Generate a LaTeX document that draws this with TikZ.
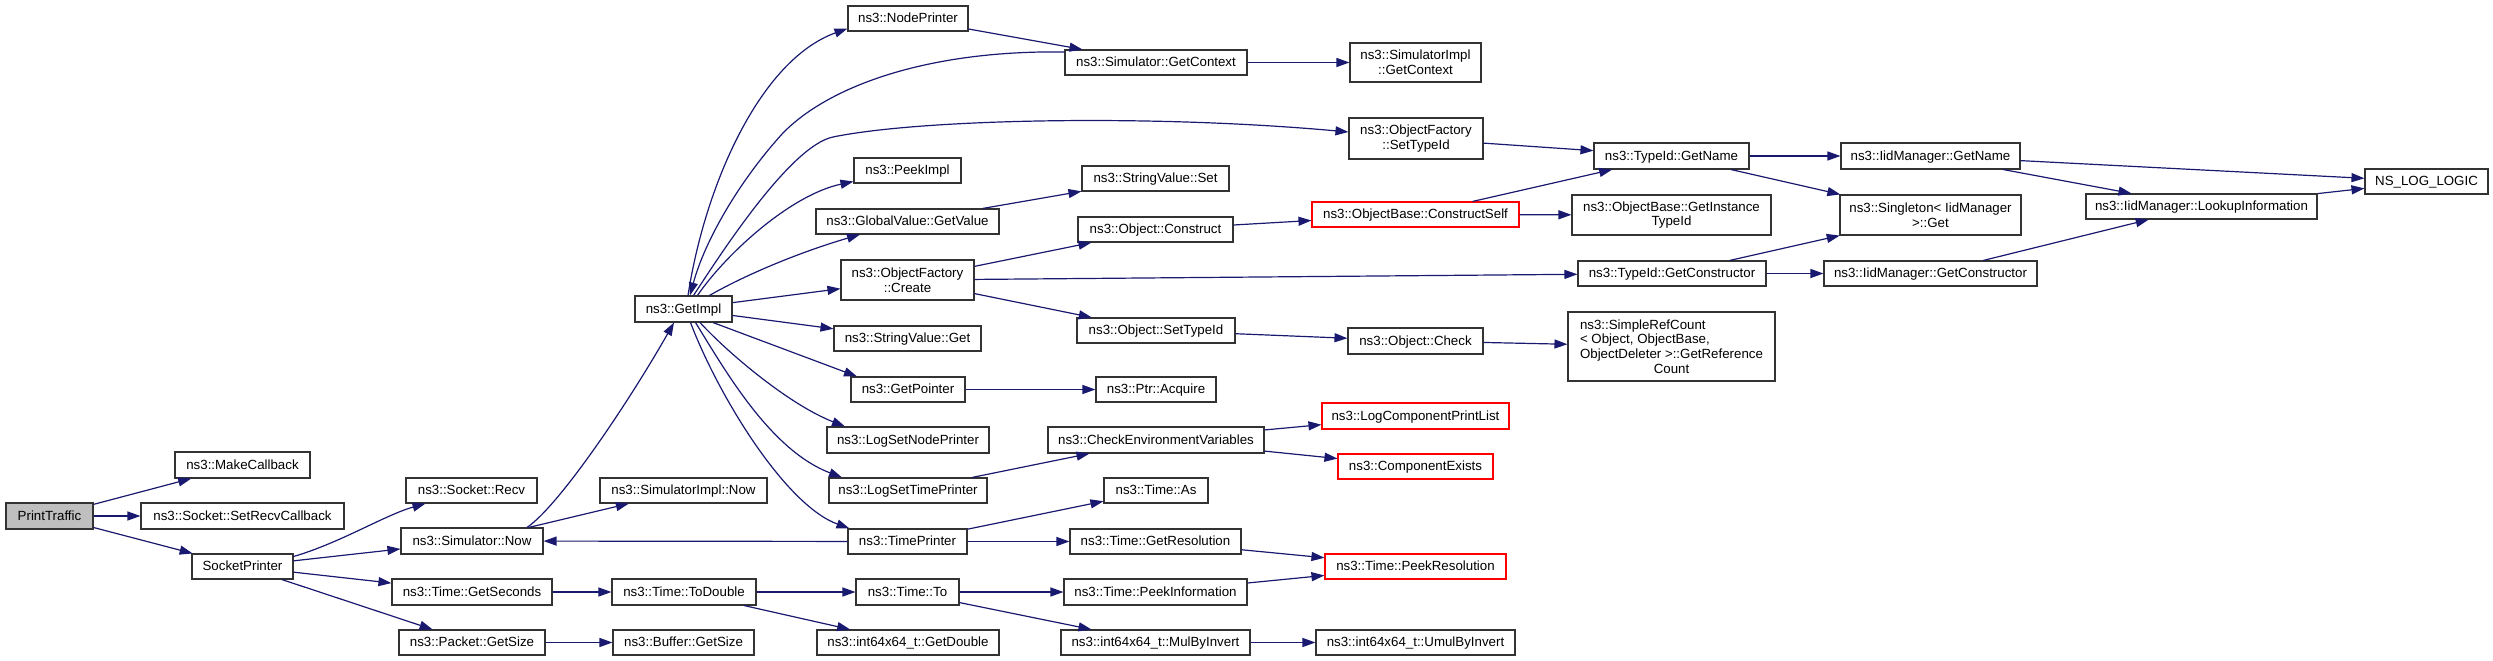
\documentclass[tikz,border=0pt]{standalone}
\usepackage{fontspec}
\setmainfont{Liberation Sans}
\usetikzlibrary{arrows.meta}
\definecolor{navyc}{HTML}{191970}
\definecolor{boxgray}{HTML}{BFBFBF}
\definecolor{boxline}{HTML}{333333}
\newcommand\gn[7][]{\node[gbox,one,#1] (#2) at ({(#3+#5)/2},{(#4+#6)/2}) [minimum width={(#5-#3)*1pt}, minimum height={(#6-#4)*1pt}] {#7};}
\newcommand\gm[7][]{\node[gbox,#1] (#2) at ({(#3+#5)/2},{(#4+#6)/2}) [minimum width={(#5-#3)*1pt}, minimum height={(#6-#4)*1pt}] {#7};}
\begin{document}
\begin{tikzpicture}[x=1pt,y=-1pt,
  gbox/.style={draw=boxline, line width=1.1pt, inner sep=0pt, fill=white,
    font=\fontsize{13.3}{14.7}\selectfont, align=center},
  one/.style={text height=9.6pt, text depth=1pt},
  redb/.style={draw=red},
  cg/.style={draw=navyc, line width=1.2pt, -{Triangle[length=13pt,width=9pt]}}]
\useasboundingbox (0,0) rectangle (2493,661);
% nodes
\gn[fill=boxgray]{pt}{6}{503}{93}{529}{PrintTraffic}
\gn{mc}{175}{452}{310}{478}{ns3::MakeCallback}
\gn{src}{141}{503}{344}{529}{ns3::Socket::SetRecvCallback}
\gn{sp}{192}{554}{293}{579}{SocketPrinter}
\gn{recv}{406}{478}{537}{503}{ns3::Socket::Recv}
\gn{snow}{401}{528}{543}{554}{ns3::Simulator::Now}
\gn{gs}{392}{579}{552}{605}{ns3::Time::GetSeconds}
\gn{pgs}{399}{630}{545}{655}{ns3::Packet::GetSize}
\gn{simnow}{600}{478}{767}{503}{ns3::SimulatorImpl::Now}
\gn{gi}{635}{296}{732}{322}{ns3::GetImpl}
\gn{np}{848}{6}{968}{31}{ns3::NodePrinter}
\gn{pi}{854}{158}{961}{183}{ns3::PeekImpl}
\gn{gv}{816}{209}{999}{234}{ns3::GlobalValue::GetValue}
\gm{ofc}{841}{260}{974}{300}{ns3::ObjectFactory\\::Create}
\gn{svg}{834}{326}{981}{351}{ns3::StringValue::Get}
\gn{gp}{851}{377}{965}{402}{ns3::GetPointer}
\gn{lsnp}{827}{427}{989}{453}{ns3::LogSetNodePrinter}
\gn{lstp}{829}{478}{987}{503}{ns3::LogSetTimePrinter}
\gn{tp}{848}{529}{967}{554}{ns3::TimePrinter}
\gn{td}{612}{579}{756}{605}{ns3::Time::ToDouble}
\gn{tto}{856}{579}{959}{605}{ns3::Time::To}
\gn{bgs}{613}{630}{754}{655}{ns3::Buffer::GetSize}
\gn{gd}{817}{630}{999}{655}{ns3::int64x64\_t::GetDouble}
\gn{sgc}{1065}{50}{1247}{75}{ns3::Simulator::GetContext}
\gm{sigc}{1350}{43}{1481}{82}{ns3::SimulatorImpl\\::GetContext}
\gm{ofs}{1349}{118}{1483}{159}{ns3::ObjectFactory\\::SetTypeId}
\gn{svs}{1082}{166}{1229}{191}{ns3::StringValue::Set}
\gn{oc}{1078}{217}{1233}{242}{ns3::Object::Construct}
\gn[redb]{cs}{1312}{202}{1519}{227}{ns3::ObjectBase::ConstructSelf}
\gn{ost}{1077}{318}{1235}{343}{ns3::Object::SetTypeId}
\gn{ock}{1348}{328}{1483}{354}{ns3::Object::Check}
\gn{pa}{1096}{377}{1216}{402}{ns3::Ptr::Acquire}
\gn{cev}{1048}{427}{1264}{453}{ns3::CheckEnvironmentVariables}
\gn[redb]{lcpl}{1322}{403}{1509}{429}{ns3::LogComponentPrintList}
\gn[redb]{ce}{1338}{454}{1493}{479}{ns3::ComponentExists}
\gn{tas}{1104}{478}{1208}{503}{ns3::Time::As}
\gn{tgr}{1070}{529}{1241}{554}{ns3::Time::GetResolution}
\gn[redb]{tpr}{1325}{554}{1506}{579}{ns3::Time::PeekResolution}
\gn{tpi}{1064}{579}{1247}{605}{ns3::Time::PeekInformation}
\gn{mbi}{1061}{630}{1250}{655}{ns3::int64x64\_t::MulByInvert}
\gn{umbi}{1316}{630}{1515}{655}{ns3::int64x64\_t::UmulByInvert}
\gn{tgn}{1594}{143}{1749}{169}{ns3::TypeId::GetName}
\gm{igi}{1572}{195}{1771}{235}{ns3::ObjectBase::GetInstance\\TypeId}
\gn{tgc}{1578}{261}{1766}{286}{ns3::TypeId::GetConstructor}
\gm{src2}{1568}{312}{1775}{381}{\makebox[183pt][l]{ns3::SimpleRefCount}\\\makebox[183pt][l]{< Object, ObjectBase,}\\ObjectDeleter >::GetReference\\Count}
\gn{ign}{1841}{143}{2020}{169}{ns3::IidManager::GetName}
\gm{sg}{1840}{195}{2021}{235}{ns3::Singleton< IidManager\\>::Get}
\gn{igc}{1824}{261}{2037}{286}{ns3::IidManager::GetConstructor}
\gn{li}{2086}{194}{2317}{219}{ns3::IidManager::LookupInformation}
\gn{nll}{2365}{169}{2488}{194}{NS\_LOG\_LOGIC}
% edges
\draw[cg] (pt) -- (mc);
\draw[cg] (pt) -- (src);
\draw[cg] (pt) -- (sp);
\draw[cg] ([yshift=10pt]sp.east) .. controls (340,543) and (385,515) .. ([xshift=-46pt]recv.south);
\draw[cg] (sp) -- (snow);
\draw[cg] (sp) -- (gs);
\draw[cg] (sp) -- (pgs);
\draw[cg] (snow) -- (simnow);
\draw[cg] ([xshift=55pt]snow.north) .. controls (560,505) and (630,400) .. ([xshift=-9.5pt]gi.south);
\draw[cg] (tp) -- (snow);
\draw[cg] ([xshift=4.5pt]gi.north) .. controls (705,185) and (760,60) .. ([yshift=3pt]np.south west);
\draw[cg] ([yshift=10.5pt]sgc.west) .. controls (930,50) and (830,85) .. (783,133) .. controls (740,180) and (705,240) .. ([xshift=6.5pt]gi.north);
\draw[cg] (sgc) -- (sigc);
\draw[cg] ([yshift=-10.5pt]np.east) -- ([xshift=18pt]sgc.north west);
\draw[cg] ([xshift=10pt]gi.north) .. controls (720,255) and (790,146) .. (833,137) .. controls (920,119) and (1150,114) .. ([yshift=6.5pt]ofs.west);
\draw[cg] ([xshift=14pt]gi.north) .. controls (725,255) and (790,195) .. ([yshift=-11pt]pi.west);
\draw[cg] ([xshift=26pt]gi.north) .. controls (745,275) and (800,252) .. ([xshift=-47.5pt]gv.south);
\draw[cg] (gi) -- (ofc);
\draw[cg] (gi) -- (svg);
\draw[cg] ([xshift=29.5pt]gi.south) -- ([xshift=-51pt]gp.north);
\draw[cg] ([xshift=16.5pt]gi.south) .. controls (730,355) and (790,405) .. ([xshift=-63pt]lsnp.north);
\draw[cg] ([xshift=12pt]gi.south) .. controls (725,370) and (770,450) .. ([xshift=-66pt]lstp.north);
\draw[cg] ([xshift=7pt]gi.south) .. controls (718,395) and (785,505) .. ([xshift=2pt]tp.north west);
\draw[cg] (ofs) -- (tgn);
\draw[cg] (gv) -- (svs);
\draw[cg] (ofc) -- (oc);
\draw[cg] (ofc) -- (tgc);
\draw[cg] (ofc) -- (ost);
\draw[cg] (oc) -- (cs);
\draw[cg] (cs) -- (tgn);
\draw[cg] (cs) -- (igi);
\draw[cg] (tgn) -- (ign);
\draw[cg] (tgn) -- (sg);
\draw[cg] (ign) -- (nll);
\draw[cg] (ign) -- (li);
\draw[cg] (li) -- (nll);
\draw[cg] (tgc) -- (sg);
\draw[cg] (tgc) -- (igc);
\draw[cg] (igc) -- (li);
\draw[cg] (ost) -- (ock);
\draw[cg] (ock) -- (src2);
\draw[cg] (gp) -- (pa);
\draw[cg] (lstp) -- (cev);
\draw[cg] (cev) -- (lcpl);
\draw[cg] (cev) -- (ce);
\draw[cg] (tp) -- (tas);
\draw[cg] (tp) -- (tgr);
\draw[cg] (tgr) -- (tpr);
\draw[cg] (tpi) -- (tpr);
\draw[cg] (tto) -- (tpi);
\draw[cg] (tto) -- (mbi);
\draw[cg] (mbi) -- (umbi);
\draw[cg] (gs) -- (td);
\draw[cg] (td) -- (tto);
\draw[cg] (td) -- (gd);
\draw[cg] (pgs) -- (bgs);
\end{tikzpicture}
\end{document}
